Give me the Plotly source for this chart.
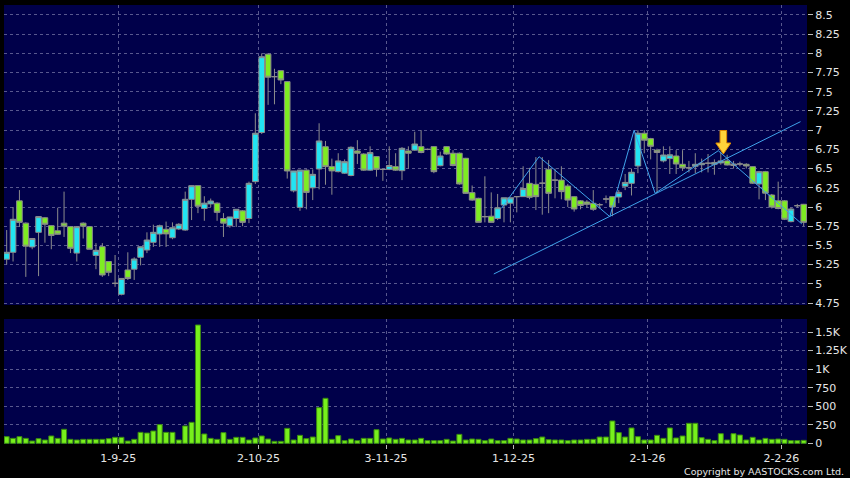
import plotly.graph_objects as go
from plotly.subplots import make_subplots

# ---------------- data ----------------
opens = [5.32, 5.41, 6.08, 5.79, 5.48, 5.67, 5.86, 5.757, 5.69, 5.79,
         5.744, 5.40, 5.79, 5.744, 5.37, 5.484, 5.29, 5.006, 4.863, 5.18,
         5.19, 5.345, 5.44, 5.54, 5.648, 5.71, 5.60, 5.714, 5.70, 6.10,
         6.278, 5.98, 6.04, 6.05, 5.85, 5.756, 5.85, 5.95, 5.85, 6.33,
         6.97, 7.99, 7.697, 7.775, 7.632, 6.21, 5.995, 6.48, 6.25, 6.495,
         6.785, 6.525, 6.46, 6.44, 6.41, 6.73, 6.69, 6.48, 6.656, 6.49,
         6.49, 6.525, 6.473, 6.73, 6.74, 6.786, 6.75, 6.786, 6.538, 6.786,
         6.70, 6.70, 6.634, 6.187, 6.113, 5.874, 5.88, 5.85, 6.026, 6.05,
         6.135, 6.135, 6.308, 6.295, 6.31, 6.49, 6.35, 6.35, 6.273, 6.134,
         6.08, 6.065, 6.048, 6.03, 6.104, 6.134, 6.13, 6.27, 6.308, 6.534,
         6.96, 6.89, 6.74, 6.60, 6.63, 6.664, 6.556, 6.51, 6.53, 6.55,
         6.57, 6.556, 6.574, 6.60, 6.54, 6.56, 6.556, 6.525, 6.30, 6.46,
         6.156, 6.08, 6.08, 5.81, 6.017, 6.035]
highs = [5.70, 6.00, 6.22, 5.80, 5.59, 5.88, 5.87, 5.76, 5.99, 6.20,
         5.75, 5.75, 5.80, 5.75, 5.53, 5.53, 5.29, 5.375, 5.07, 5.41,
         5.345, 5.48, 5.67, 5.77, 5.77, 5.81, 5.80, 5.79, 6.20, 6.28,
         6.28, 6.14, 6.11, 6.06, 5.92, 5.87, 5.97, 5.96, 6.33, 7.22,
         8.00, 8.00, 7.80, 7.78, 7.64, 6.47, 6.48, 6.49, 6.49, 7.09,
         6.86, 6.63, 6.70, 6.62, 6.79, 6.87, 6.70, 6.79, 6.66, 6.49,
         6.79, 6.70, 6.78, 6.79, 6.98, 7.00, 6.76, 6.79, 6.72, 6.79,
         6.74, 6.71, 6.64, 6.28, 6.12, 6.40, 6.19, 6.17, 6.12, 6.12,
         6.14, 6.53, 6.51, 6.65, 6.65, 6.61, 6.50, 6.53, 6.30, 6.14,
         6.09, 6.09, 6.22, 6.05, 6.15, 6.14, 6.22, 6.43, 6.50, 7.00,
         7.00, 6.90, 6.76, 6.79, 6.79, 6.74, 6.74, 6.60, 6.70, 6.63,
         6.69, 6.62, 6.72, 6.68, 6.60, 6.59, 6.57, 6.53, 6.47, 6.47,
         6.17, 6.33, 6.09, 5.99, 6.04, 6.04]
lows = [5.25, 5.29, 5.74, 5.09, 5.45, 5.10, 5.535, 5.45, 5.64, 5.61,
        5.40, 5.29, 5.59, 5.45, 5.19, 5.09, 5.10, 4.96, 4.85, 5.05,
        5.05, 5.24, 5.40, 5.48, 5.48, 5.48, 5.58, 5.70, 5.69, 5.83,
        5.92, 5.82, 6.00, 5.82, 5.61, 5.73, 5.74, 5.75, 5.79, 6.30,
        6.95, 7.33, 7.337, 7.60, 6.37, 6.19, 5.95, 5.97, 6.09, 6.23,
        6.29, 6.16, 6.45, 6.43, 6.40, 6.56, 6.47, 6.47, 6.395, 6.34,
        6.48, 6.47, 6.35, 6.50, 6.73, 6.70, 6.74, 6.44, 6.53, 6.68,
        6.53, 6.29, 6.17, 6.08, 5.80, 5.80, 5.80, 5.83, 5.80, 5.80,
        5.93, 6.13, 6.10, 5.96, 5.90, 5.92, 6.113, 6.10, 6.00, 5.94,
        5.97, 5.99, 5.95, 5.98, 6.05, 5.88, 6.05, 6.22, 6.15, 6.44,
        6.70, 6.62, 6.18, 6.58, 6.43, 6.43, 6.47, 6.45, 6.44, 6.45,
        6.45, 6.42, 6.55, 6.54, 6.50, 6.53, 6.50, 6.30, 6.10, 6.09,
        5.98, 5.97, 5.83, 5.80, 5.99, 5.75]
closes = [5.41, 5.84, 5.80, 5.49, 5.59, 5.875, 5.775, 5.63, 5.645, 5.75,
          5.462, 5.744, 5.75, 5.45, 5.436, 5.115, 5.15, 5.006, 5.07, 5.07,
          5.323, 5.483, 5.57, 5.67, 5.756, 5.65, 5.73, 5.775, 6.10, 6.278,
          6.01, 6.05, 6.078, 5.93, 5.79, 5.87, 5.97, 5.80, 6.308, 6.96,
          7.957, 7.69, 7.697, 7.654, 6.469, 6.469, 6.48, 6.19, 6.425, 6.86,
          6.525, 6.47, 6.60, 6.59, 6.777, 6.70, 6.48, 6.708, 6.49, 6.49,
          6.54, 6.48, 6.764, 6.70, 6.82, 6.71, 6.75, 6.46, 6.664, 6.69,
          6.54, 6.30, 6.178, 6.09, 5.80, 5.874, 5.80, 5.99, 6.12, 6.12,
          6.135, 6.24, 6.126, 6.135, 6.31, 6.178, 6.35, 6.20, 6.09, 5.974,
          6.02, 6.035, 5.97, 6.03, 6.104, 6.00, 6.19, 6.32, 6.452, 6.96,
          6.87, 6.79, 6.71, 6.677, 6.68, 6.56, 6.51, 6.51, 6.556, 6.57,
          6.57, 6.58, 6.60, 6.547, 6.56, 6.56, 6.534, 6.31, 6.46, 6.18,
          6.00, 5.98, 5.84, 5.974, 6.017, 5.80]
volumes = [90, 67, 90, 67, 31, 63, 45, 99, 67, 189,
           54, 45, 54, 54, 54, 54, 63, 81, 81, 31,
           54, 148, 139, 166, 252, 148, 148, 45, 234, 283,
           1595, 126, 67, 54, 144, 54, 81, 81, 45, 72,
           99, 58, 27, 27, 202, 45, 108, 63, 85, 481,
           607, 54, 103, 36, 58, 36, 67, 67, 184, 58,
           72, 54, 67, 45, 45, 67, 36, 36, 36, 54,
           31, 121, 45, 58, 54, 36, 58, 36, 36, 67,
           58, 45, 45, 63, 85, 49, 45, 45, 36, 45,
           45, 54, 54, 85, 85, 301, 144, 85, 207, 90,
           45, 45, 108, 67, 207, 72, 99, 270, 270, 76,
           54, 36, 130, 45, 130, 112, 45, 81, 45, 67,
           54, 58, 54, 36, 36, 40]
bar_index = list(range(len(opens)))

date_tick_pos = [17.5, 39.5, 59.5, 79.5, 100.5, 121.5]
date_tick_text = ["1-9-25", "2-10-25", "3-11-25", "1-12-25", "2-1-26", "2-2-26"]

price_tick_vals = [4.75, 5.0, 5.25, 5.5, 5.75, 6.0, 6.25, 6.5, 6.75, 7.0,
                   7.25, 7.5, 7.75, 8.0, 8.25, 8.5]
price_tick_text = ["4.75", "5", "5.25", "5.5", "5.75", "6", "6.25", "6.5", "6.75", "7",
                   "7.25", "7.5", "7.75", "8", "8.25", "8.5"]
vol_tick_vals = [0, 250, 500, 750, 1000, 1250, 1500]
vol_tick_text = ["0", "250", "500", "750", "1K", "1.25K", "1.5K"]

# drawn trend lines (bar index, price)
support_x = [76.4, 124.5]
support_y = [5.128, 7.111]
zigzag_x = [77.6, 83.5, 94.6, 98.4, 101.7, 111.6, 124.7]
zigzag_y = [5.983, 6.655, 5.874, 7.0, 6.178, 6.733, 5.78]

# signal arrow (tip position)
arrow_x = 112.4
arrow_y = 6.69

# ---------------- styling ----------------
X_RANGE = [-0.42, 125.52]
P_RANGE = [4.724, 8.63]
V_RANGE = [-9, 1676]
UP = "#22E4F2"
DOWN = "#7EEC22"
WICK = "#8C8C8C"
BG = "#00004A"
GRID = "#58588E"
TXT = "#E6E6E6"
FONT = "DejaVu Sans"

fig = make_subplots(rows=2, cols=1, shared_xaxes=True)

fig.add_trace(go.Candlestick(
    x=bar_index, open=opens, high=highs, low=lows, close=closes,
    increasing=dict(fillcolor=UP, line=dict(color=WICK, width=1)),
    decreasing=dict(fillcolor=DOWN, line=dict(color=WICK, width=1)),
    whiskerwidth=0, showlegend=False, hoverinfo="skip"), row=1, col=1)

fig.add_trace(go.Scatter(x=support_x, y=support_y, mode="lines",
                         line=dict(color="#3FA2EA", width=1), showlegend=False,
                         hoverinfo="skip"), row=1, col=1)
fig.add_trace(go.Scatter(x=zigzag_x, y=zigzag_y, mode="lines",
                         line=dict(color="#3FA2EA", width=1), showlegend=False,
                         hoverinfo="skip"), row=1, col=1)

fig.add_trace(go.Bar(x=bar_index, y=volumes, width=0.78,
                     marker=dict(color="#77F01C", line=dict(color="#3A8A10", width=1)),
                     showlegend=False, hoverinfo="skip"), row=2, col=1)

# arrow polygon computed from tip + pixel sizes through the axis scale
plot_w, price_h = 803.0, 300.0
ux = (X_RANGE[1] - X_RANGE[0]) / plot_w
uy = (P_RANGE[1] - P_RANGE[0]) / price_h
arrow_px = [(0, 0), (-7.5, 11), (-3.3, 11), (-3.3, 23.5), (3.3, 23.5), (3.3, 11), (7.5, 11)]
pts = [(arrow_x + dx * ux, arrow_y + dy * uy) for dx, dy in arrow_px]
path = "M" + " L".join(f"{px:.4f},{py:.4f}" for px, py in pts) + " Z"
fig.add_shape(type="path", path=path, xref="x", yref="y",
              fillcolor="#FFD43A", line=dict(color="#E08C00", width=1), layer="above")

axis_font = dict(family=FONT, size=11, color=TXT)
grid_common = dict(showgrid=True, gridcolor=GRID, gridwidth=1, griddash="3px,3px",
                   zeroline=False, showline=False, automargin=False)

fig.update_layout(
    width=850, height=478,
    margin=dict(l=4, r=43, t=5, b=34, autoexpand=False),
    paper_bgcolor="#000000", plot_bgcolor=BG,
    boxgap=0.12, boxgroupgap=0,
    font=dict(family=FONT, size=11, color=TXT),
    showlegend=False,
    xaxis=dict(domain=[0, 1], range=X_RANGE, rangeslider=dict(visible=False),
               tickvals=date_tick_pos, ticktext=date_tick_text, showticklabels=False,
               ticks="", **grid_common),
    xaxis2=dict(domain=[0, 1], range=X_RANGE, tickvals=date_tick_pos, ticktext=date_tick_text,
                ticks="outside", ticklen=4, tickcolor="#BBBBBB", tickfont=axis_font,
                **grid_common),
    yaxis=dict(domain=[1 - 300 / 439, 1], range=P_RANGE, side="right",
               tickvals=price_tick_vals, ticktext=price_tick_text,
               ticks="outside", ticklen=5, tickcolor="#BBBBBB", tickfont=axis_font,
               **grid_common),
    yaxis2=dict(domain=[0, 125 / 439], range=V_RANGE, side="right",
                tickvals=vol_tick_vals, ticktext=vol_tick_text,
                ticks="outside", ticklen=5, tickcolor="#BBBBBB", tickfont=axis_font,
                **grid_common),
)

fig.add_annotation(text="Copyright by AASTOCKS.com Ltd.", xref="paper", yref="paper",
                   x=(846 - 4) / 803, y=(444 - 471.5) / 439, xanchor="right", yanchor="middle",
                   showarrow=False, font=dict(family=FONT, size=9.5, color=TXT))

fig.write_html("out.html", config={"displayModeBar": False},
               post_script="document.body.style.margin='0px';document.body.style.background='#000';")
